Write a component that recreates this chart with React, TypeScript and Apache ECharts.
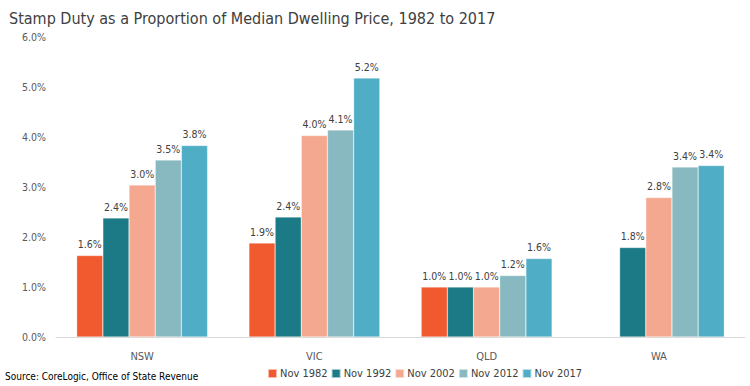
import React, { useEffect, useRef } from "react";
import * as echarts from "echarts";

const categories = ["NSW", "VIC", "QLD", "WA"];
const seriesNames = ["Nov 1982", "Nov 1992", "Nov 2002", "Nov 2012", "Nov 2017"];
const nov1982 = [1.63, 1.88, 1.0, null];
const nov1992 = [2.38, 2.4, 1.0, 1.79];
const nov2002 = [3.04, 4.03, 1.0, 2.79];
const nov2012 = [3.54, 4.14, 1.23, 3.4];
const nov2017 = [3.83, 5.18, 1.57, 3.43];
const colors = ["#F15A2E", "#1B7A85", "#F5A890", "#88B9C0", "#4FADC5"];

const FONT = "'DejaVu Sans Condensed', 'Liberation Sans', sans-serif";

export default function App() {
  const ref = useRef<HTMLDivElement>(null);
  useEffect(() => {
    const chart = echarts.init(ref.current!, null, { renderer: "svg" });
    const data = [nov1982, nov1992, nov2002, nov2012, nov2017];
    chart.setOption({
      animation: false,
      textStyle: { fontFamily: FONT },
      title: {
        text: "Stamp Duty as a Proportion of Median Dwelling Price, 1982 to 2017",
        left: 4,
        top: 5,
        textStyle: { fontFamily: FONT, fontSize: 16, fontWeight: "normal", color: "#404040" },
      },
      graphic: [
        {
          type: "text",
          left: 5,
          top: 371,
          style: { text: "Source: CoreLogic, Office of State Revenue", fontFamily: FONT, fontSize: 10, fill: "#000000" },
        },
      ],
      legend: {
        data: seriesNames,
        left: 267,
        top: 368,
        padding: 0,
        itemWidth: 9,
        itemHeight: 9,
        itemGap: 3,
        icon: "rect",
        textStyle: { fontFamily: FONT, fontSize: 11, color: "#404040", padding: [0, 0, 0, -2] },
      },
      grid: { left: 56, right: 5, top: 37, bottom: 49, containLabel: false },
      xAxis: {
        type: "category",
        data: categories,
        axisLine: { lineStyle: { color: "#D9D9D9", width: 1 } },
        axisTick: { show: false },
        axisLabel: { color: "#595959", fontSize: 11, fontFamily: FONT, margin: 14 },
      },
      yAxis: {
        type: "value",
        min: 0,
        max: 6,
        interval: 1,
        splitLine: { show: false },
        axisLine: { show: false },
        axisTick: { show: false },
        axisLabel: {
          color: "#595959",
          fontSize: 10.5,
          fontFamily: FONT,
          margin: 10,
          formatter: (v: number) => v.toFixed(1) + "%",
        },
      },
      series: seriesNames.map((name, i) => ({
        name,
        type: "bar",
        data: data[i],
        barGap: "0%",
        barCategoryGap: "24%",
        itemStyle: { color: colors[i], borderColor: "rgba(255,255,255,0.6)", borderWidth: 0.5 },
        label: {
          show: true,
          position: "top",
          distance: 6,
          color: "#404040",
          fontSize: 10.5,
          fontFamily: FONT,
          formatter: (p: any) => (p.value == null ? "" : Number(p.value).toFixed(1) + "%"),
        },
      })),
    });
    return () => chart.dispose();
  }, []);
  return <div ref={ref} style={{ width: 750, height: 386, position: "absolute", left: 0, top: 0 }} />;
}
